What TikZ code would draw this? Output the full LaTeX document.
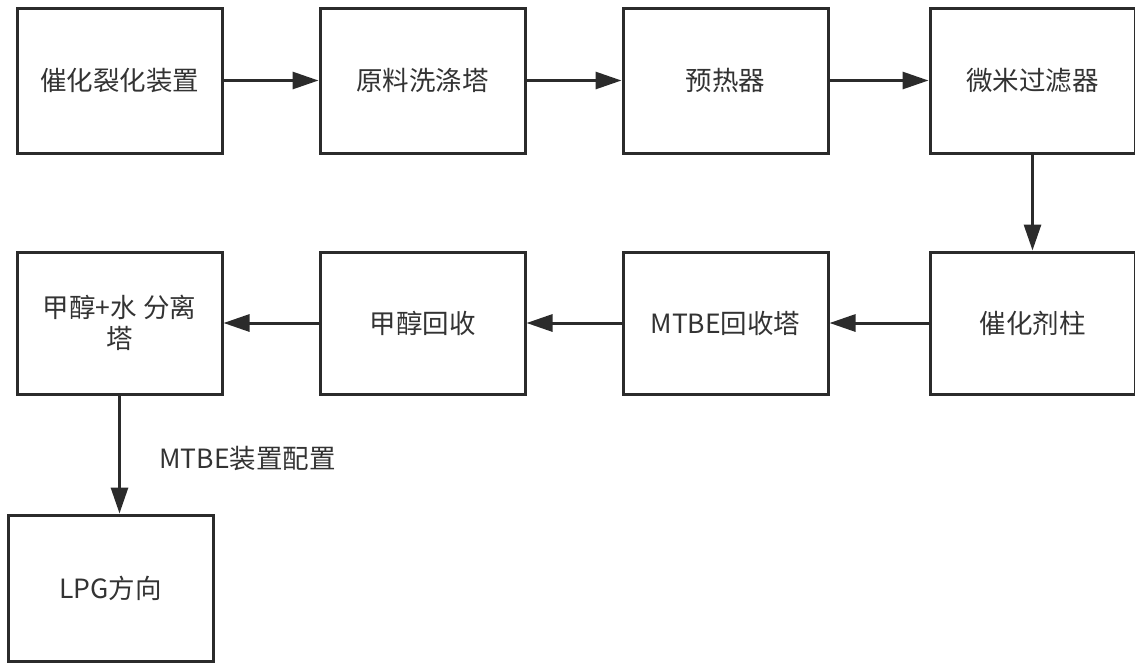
\documentclass[tikz,border=0pt]{standalone}
\usepackage{fontspec}
\setmainfont{Noto Sans CJK SC}
\usetikzlibrary{arrows.meta}
\definecolor{ink}{HTML}{2B2B2B}
\definecolor{txt}{HTML}{333333}
\begin{document}
\begin{tikzpicture}[x=1pt,y=-1pt,
  box/.style={draw=ink,line width=3pt,fill=white,minimum width=205pt,minimum height=145pt,
    inner sep=0pt,text=txt,align=center,font=\fontsize{26.5}{31}\selectfont},
  flow/.style={draw=ink,line width=3pt,-{Triangle[length=26pt,width=17pt]}}]
\useasboundingbox (0,0) rectangle (1135,662);
\node[box] (a) at (119.5,80.5) {催化裂化装置};
\node[box] (b) at (422.5,80.5) {原料洗涤塔};
\node[box] (c) at (725.5,80.5) {预热器};
\node[box] (d) at (1032.5,80.5) {微米过滤器};
\node[box,minimum height=142pt] (e) at (1032.5,323) {催化剂柱};
\node[box,minimum height=142pt] (f) at (725.5,323) {MTBE回收塔};
\node[box,minimum height=142pt] (g) at (422.5,323) {甲醇回收};
\node[box,minimum height=142pt] (h) at (119.5,323) {甲醇+水 分离\\塔};
\node[box,minimum height=146pt] (i) at (110.5,588) {LPG方向};
\node[text=txt,font=\fontsize{26.5}{31}\selectfont,anchor=west,inner sep=0pt] (lbl) at (159,458) {MTBE装置配置};
\draw[flow] (a) -- (b);
\draw[flow] (b) -- (c);
\draw[flow] (c) -- (d);
\draw[flow] (d) -- (e);
\draw[flow] (e) -- (f);
\draw[flow] (f) -- (g);
\draw[flow] (g) -- (h);
\draw[flow] (h.south) -- (h.south |- i.north);
\end{tikzpicture}
\end{document}
